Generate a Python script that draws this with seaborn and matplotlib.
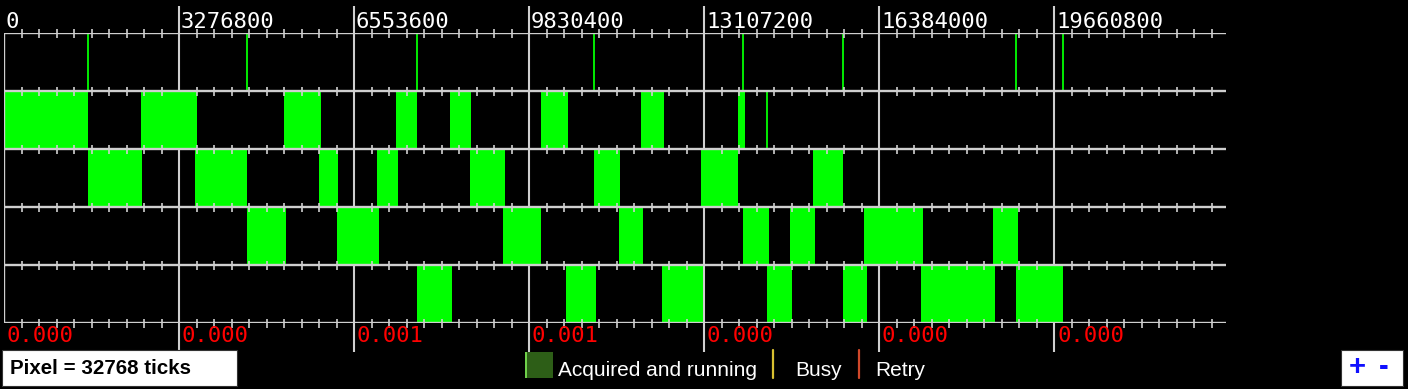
import matplotlib
matplotlib.use("Agg")
import matplotlib.pyplot as plt
from matplotlib.patches import Rectangle
import seaborn as sns
import pandas as pd

# ---- data (chart pixels; 1 pixel = 32768 ticks) ----
PIXEL = 32768
major_units = [0, 100, 200, 300, 400, 500, 600]
top_labels = [str(u * PIXEL) for u in major_units]
bottom_labels = ["0.000", "0.000", "0.001", "0.001", "0.000", "0.000", "0.000"]

row0_marks = [0, 48, 139, 236, 337, 422, 479, 578, 605]
row1_starts = [0, 78, 160, 224, 255, 307, 364, 419]
row1_ends = [48, 110, 181, 236, 267, 322, 377, 423]
row1_marks = [436]
row2_starts = [48, 109, 180, 213, 266, 337, 398, 462]
row2_ends = [79, 139, 191, 225, 286, 352, 419, 479]
row3_starts = [139, 190, 285, 351, 422, 449, 491, 565]
row3_ends = [161, 214, 307, 365, 437, 463, 525, 579]
row4_starts = [236, 321, 376, 436, 479, 524, 578]
row4_ends = [256, 338, 399, 450, 493, 566, 605]

legend_labels = ["Acquired and running", "Busy", "Retry"]
scale_label = "Pixel = 32768 ticks"

rows = [(1, row1_starts, row1_ends), (2, row2_starts, row2_ends),
        (3, row3_starts, row3_ends), (4, row4_starts, row4_ends)]
seg = pd.DataFrame([
    {"row": r, "start": s * PIXEL, "end": e * PIXEL}
    for r, ss, ee in rows for s, e in zip(ss, ee)
])

sns.set_theme(style="dark", rc={"axes.facecolor": "black", "figure.facecolor": "black"})
plt.rcParams["font.family"] = ["Liberation Sans", "DejaVu Sans"]

W, H = 1408, 389
fig = plt.figure(figsize=(W / 100, H / 100), dpi=100)
fig.patch.set_facecolor("black")

x0, x1, y0, y1 = 4, 1226, 33, 323
ax = fig.add_axes([x0 / W, 1 - y1 / H, (x1 - x0) / W, (y1 - y0) / H])
ax.set_facecolor("black")
XMAX = 698 * PIXEL
ax.set_xlim(0, XMAX)
ax.set_ylim(5, 0)
for s in ax.spines.values():
    s.set_visible(False)
ax.set_xticks([])
ax.set_yticks([])
ax.grid(False)

GREEN = "#00ff00"
GRID = "#cfcfcf"
row_px = (y1 - y0) / 5.0  # 58 px per row

# major vertical lines (behind the blocks)
ytop = (6 - y0) / row_px
ybot = (352 - y0) / row_px
ax.vlines([u * PIXEL for u in major_units[1:]], ytop, ybot, colors=GRID, lw=1.5,
          zorder=1, clip_on=False)

# green blocks
for _, r in seg.iterrows():
    ax.broken_barh([(r["start"], r["end"] - r["start"])], (r["row"], 1),
                   facecolors=GREEN, edgecolor="none", zorder=2)
# thin marks
ax.vlines([m * PIXEL for m in row0_marks], 0, 1, colors=GREEN, lw=1.3, zorder=2)
ax.vlines([m * PIXEL for m in row1_marks], 1, 2, colors=GREEN, lw=1.3, zorder=2)

# horizontal lines
ax.hlines(range(6), 0, XMAX, colors=GRID, lw=1.7, zorder=3)
# left edge
ax.vlines([0], 0, 5, colors=GRID, lw=1.7, zorder=3)
# minor ticks
tick_x = [u * PIXEL for u in range(10, 700, 10) if u % 100 != 0]
dt = 4.5 / row_px
for yy in range(6):
    ax.vlines(tick_x, yy - dt, yy + dt, colors=GRID, lw=1.2, zorder=3, clip_on=False)

# labels
for u, tl, bl in zip(major_units, top_labels, bottom_labels):
    ax.text((u + 1.0) * PIXEL, (22 - y0) / row_px, tl, color="white",
            family="DejaVu Sans Mono", fontsize=16, va="center", ha="left",
            clip_on=False)
    ax.text((u + 1.5) * PIXEL, (336 - y0) / row_px, bl, color="#ff0000",
            family="DejaVu Sans Mono", fontsize=16, va="center", ha="left",
            clip_on=False)

def fx(px):
    return px / W

def fy(py):
    return 1 - py / H

# scale box
fig.patches.append(Rectangle((fx(2), fy(386)), fx(237) - fx(2), fy(350) - fy(386),
                             transform=fig.transFigure, facecolor="white",
                             edgecolor="#333333", lw=0.8))
fig.text(fx(10), fy(368), scale_label, color="black", fontsize=14.8,
         fontweight="bold", va="center", ha="left")

# legend
fig.patches.append(Rectangle((fx(525), fy(378)), fx(553) - fx(525), fy(352) - fy(378),
                             transform=fig.transFigure, facecolor="#2d5e17",
                             edgecolor="none"))
fig.patches.append(Rectangle((fx(525), fy(378)), fx(527) - fx(525), fy(352) - fy(378),
                             transform=fig.transFigure, facecolor="#6fd04a",
                             edgecolor="none"))
fig.text(fx(558), fy(371), legend_labels[0], color="white", fontsize=15,
         va="center", ha="left")
fig.lines.append(plt.Line2D([fx(773), fx(773)], [fy(378), fy(350)],
                            transform=fig.transFigure, color="#d8c030", lw=1.6))
fig.text(fx(795), fy(371), legend_labels[1], color="white", fontsize=15,
         va="center", ha="left")
fig.lines.append(plt.Line2D([fx(859), fx(859)], [fy(378), fy(350)],
                            transform=fig.transFigure, color="#d0482a", lw=1.6))
fig.text(fx(875), fy(371), legend_labels[2], color="white", fontsize=15,
         va="center", ha="left")

# zoom box
fig.patches.append(Rectangle((fx(1341), fy(386)), fx(1403) - fx(1341), fy(350) - fy(386),
                             transform=fig.transFigure, facecolor="white",
                             edgecolor="#333333", lw=0.8))
fig.text(fx(1357), fy(367), "+", color="#1010ff", fontsize=21, fontweight="bold",
         va="center", ha="center")
fig.text(fx(1384), fy(367), "-", color="#1010ff", fontsize=21, fontweight="bold",
         va="center", ha="center")

fig.savefig("out.png", dpi=100, facecolor="black")
